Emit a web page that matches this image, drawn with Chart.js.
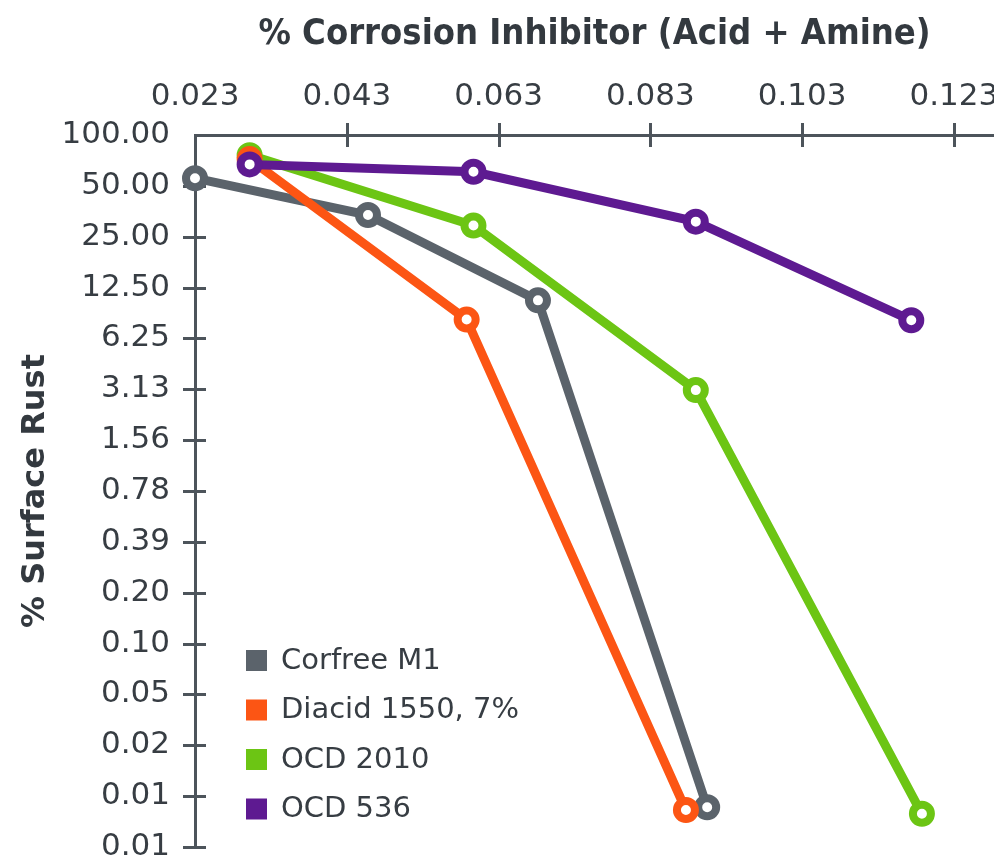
<!DOCTYPE html>
<html>
<head>
<meta charset="utf-8">
<script src="https://cdn.jsdelivr.net/npm/chart.js@4/dist/chart.umd.min.js"></script>
<style>
  html, body { margin: 0; padding: 0; background: #ffffff; }
  #wrap { width: 994px; height: 856px; }
</style>
</head>
<body>
<div id="wrap"><canvas id="c" width="994" height="856"></canvas></div>
<script>
// ---- data ----
const seriesNames = ['Corfree M1', 'Diacid 1550, 7%', 'OCD 2010', 'OCD 536'];
const seriesColors = ['#5b636b', '#fc5514', '#6cc514', '#5e1a91'];

const corfreeX = [0.023, 0.0458, 0.0682, 0.0905];
const corfreeY = [55.5, 33.6, 10.5, 0.0105];

const diacidX = [0.0302, 0.0588, 0.0877];
const diacidY = [72, 8.08, 0.0101];

const ocd2010X = [0.0302, 0.0597, 0.0890, 0.1188];
const ocd2010Y = [76, 29.1, 3.09, 0.0096];

const ocd536X = [0.0302, 0.0597, 0.0890, 0.1174];
const ocd536Y = [67, 60.6, 30.7, 8.0];

const xTickValues = [0.023, 0.043, 0.063, 0.083, 0.103, 0.123];
const xTickLabels = ['0.023', '0.043', '0.063', '0.083', '0.103', '0.123'];

const yTickValues = [100, 50, 25, 12.5, 6.25, 3.125, 1.5625, 0.78125, 0.390625,
  0.1953125, 0.09765625, 0.048828125, 0.0244140625, 0.01220703125, 0.006103515625];
const yTickLabels = ['100.00', '50.00', '25.00', '12.50', '6.25', '3.13', '1.56', '0.78',
  '0.39', '0.20', '0.10', '0.05', '0.02', '0.01', '0.01'];

const xTitle = '% Corrosion Inhibitor (Acid + Amine)';
const yTitle = '% Surface Rust';

// ---- build ----
const TEXT = '#373d43';
const AXIS = '#4d545b';
const tickFont = { family: "'DejaVu Sans'", size: 31, weight: 'normal' };

function pts(xs, ys) { return xs.map((x, i) => ({ x: x, y: ys[i] })); }
const allX = [corfreeX, diacidX, ocd2010X, ocd536X];
const allY = [corfreeY, diacidY, ocd2010Y, ocd536Y];
const drawOrder = [3, 1, 2, 0];

const datasets = seriesNames.map((name, i) => ({
  label: name,
  data: pts(allX[i], allY[i]),
  borderColor: seriesColors[i],
  backgroundColor: seriesColors[i],
  borderWidth: 9,
  pointRadius: 9,
  pointBorderWidth: 8,
  pointBackgroundColor: '#ffffff',
  pointBorderColor: seriesColors[i],
  pointHoverRadius: 9,
  tension: 0,
  clip: false,
  order: drawOrder[i]
}));

const crossTicks = {
  id: 'crossTicks',
  beforeDatasetsDraw(chart) {
    const ctx = chart.ctx;
    const xs = chart.scales.x, ys = chart.scales.y;
    const a = chart.chartArea;
    ctx.save();
    ctx.strokeStyle = AXIS;
    ctx.lineWidth = 3;
    ctx.beginPath();
    yTickValues.forEach((v, i) => {
      if (i === 0) return;
      const py = Math.round(ys.getPixelForValue(v)) + 0.5;
      ctx.moveTo(a.left - 12, py); ctx.lineTo(a.left + 11, py);
    });
    xTickValues.forEach((v, i) => {
      if (i === 0) return;
      const px = Math.round(xs.getPixelForValue(v)) + 0.5;
      ctx.moveTo(px, a.top - 12); ctx.lineTo(px, a.top + 12);
    });
    ctx.stroke();
    ctx.restore();
  }
};

const boxLegend = {
  id: 'boxLegend',
  afterDatasetsDraw(chart) {
    const ctx = chart.ctx;
    ctx.save();
    ctx.font = "29px 'DejaVu Sans'";
    ctx.textBaseline = 'middle';
    ctx.textAlign = 'left';
    seriesNames.forEach((name, i) => {
      const cy = 660 + i * 49.5;
      ctx.fillStyle = seriesColors[i];
      ctx.fillRect(246, cy - 10, 21, 21);
      ctx.fillStyle = TEXT;
      ctx.fillText(name, 281, cy + 1);
    });
    ctx.restore();
  }
};

new Chart(document.getElementById('c'), {
  type: 'line',
  data: { datasets: datasets },
  plugins: [crossTicks, boxLegend],
  options: {
    responsive: false,
    animation: false,
    events: [],
    layout: { autoPadding: false, padding: { left: 0, top: 0, right: 0, bottom: 9 } },
    plugins: { legend: { display: false }, tooltip: { enabled: false } },
    scales: {
      x: {
        type: 'linear',
        position: 'top',
        min: 0.023,
        max: 0.1283,
        afterBuildTicks(scale) { scale.ticks = xTickValues.map(v => ({ value: v })); },
        afterFit(scale) { scale.height = 135; scale.paddingLeft = 0; scale.paddingRight = 0; },
        grid: { display: false },
        border: { display: true, color: AXIS, width: 3 },
        ticks: {
          autoSkip: false,
          maxRotation: 0,
          padding: 11,
          color: TEXT,
          font: tickFont,
          callback(value) {
            const i = xTickValues.findIndex(v => Math.abs(v - value) < 1e-9);
            return i >= 0 ? xTickLabels[i] : '';
          }
        },
        title: {
          display: true,
          text: xTitle,
          color: '#33393f',
          font: { family: "'Liberation Sans Narrow', 'DejaVu Sans Condensed', 'DejaVu Sans'", size: 36, weight: 'bold' },
          padding: { top: 13, bottom: 0 }
        }
      },
      y: {
        type: 'logarithmic',
        position: 'left',
        min: yTickValues[yTickValues.length - 1],
        max: yTickValues[0],
        afterBuildTicks(scale) { scale.ticks = yTickValues.slice().reverse().map(v => ({ value: v })); },
        afterFit(scale) { scale.width = 195; scale.paddingTop = 0; scale.paddingBottom = 0; },
        grid: { display: false },
        border: { display: true, color: AXIS, width: 3 },
        ticks: {
          autoSkip: false,
          padding: 17,
          color: TEXT,
          font: tickFont,
          callback(value) {
            const i = yTickValues.findIndex(v => Math.abs(v - value) / v < 1e-6);
            return i >= 0 ? yTickLabels[i] : '';
          }
        },
        title: {
          display: true,
          text: yTitle,
          color: '#33393f',
          font: { family: "'DejaVu Sans'", size: 32, weight: 'bold' },
          padding: { top: 16, bottom: 0 }
        }
      }
    }
  }
});
</script>
</body>
</html>
